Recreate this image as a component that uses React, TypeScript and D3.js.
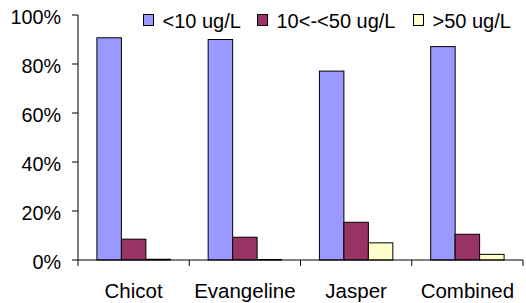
import React from "react";
import * as d3 from "d3";

const categories = ["Chicot", "Evangeline", "Jasper", "Combined"];
const seriesNames = ["<10 ug/L", "10<-<50 ug/L", ">50 ug/L"];
const seriesColors = ["#9999FF", "#993366", "#FFFFCC"];
const lowValues = [0.907, 0.9, 0.771, 0.871];
const midValues = [0.085, 0.093, 0.154, 0.105];
const highValues = [0.003, 0.002, 0.07, 0.023];
const yTicks = [0, 0.2, 0.4, 0.6, 0.8, 1.0];

const W = 526, H = 303;
const left = 78, right = 523, top = 15, bottom = 260;

export default function App() {
  const series = [lowValues, midValues, highValues];
  const x = d3.scaleBand<string>().domain(categories).range([left, right]).paddingInner(0.34).paddingOuter(0.17);
  const step = (right - left) / categories.length;
  const xs = d3.scaleBand<number>().domain([0, 1, 2]).range([0, x.bandwidth()]);
  const y = d3.scaleLinear().domain([0, 1]).range([bottom, top]);
  const font = "'Liberation Sans', Arial, sans-serif";
  return (
    <svg width={W} height={H} style={{ position: "absolute", left: 0, top: 0, background: "#fff" }}>
      {categories.map((c, ci) =>
        series.map((vals, si) => {
          const v = vals[ci];
          return (
            <rect key={c + si} x={(x(c) as number) + (xs(si) as number)} y={y(v)} width={xs.bandwidth()}
              height={bottom - y(v)} fill={seriesColors[si]} stroke="#000" strokeWidth={1} />
          );
        })
      )}
      <line x1={left} x2={left} y1={top} y2={bottom} stroke="#000" />
      <line x1={left} x2={right} y1={bottom} y2={bottom} stroke="#000" />
      {yTicks.map((t) => (
        <g key={t}>
          <line x1={left - 6} x2={left} y1={y(t)} y2={y(t)} stroke="#000" />
          <text x={61} y={y(t) + 9} textAnchor="end" fontFamily={font} style={{ fontSize: "19.8px" }}>
            {d3.format(".0%")(t)}
          </text>
        </g>
      ))}
      {d3.range(categories.length + 1).map((i) => (
        <line key={i} x1={left + i * step} x2={left + i * step} y1={bottom} y2={bottom + 6} stroke="#000" />
      ))}
      {categories.map((c) => (
        <text key={c} x={(x(c) as number) + x.bandwidth() / 2} y={298} textAnchor="middle" fontFamily={font} style={{ fontSize: "20.5px" }}>
          {c}
        </text>
      ))}
      {seriesNames.map((n, i) => {
        const lx = [143, 257, 413][i];
        return (
          <g key={n}>
            <rect x={lx + 0.5} y={14.5} width={10} height={11} fill={seriesColors[i]} stroke="#000" />
            <text x={lx + 19.5} y={27.5} fontFamily={font} style={{ fontSize: "20px" }}>{n}</text>
          </g>
        );
      })}
    </svg>
  );
}
